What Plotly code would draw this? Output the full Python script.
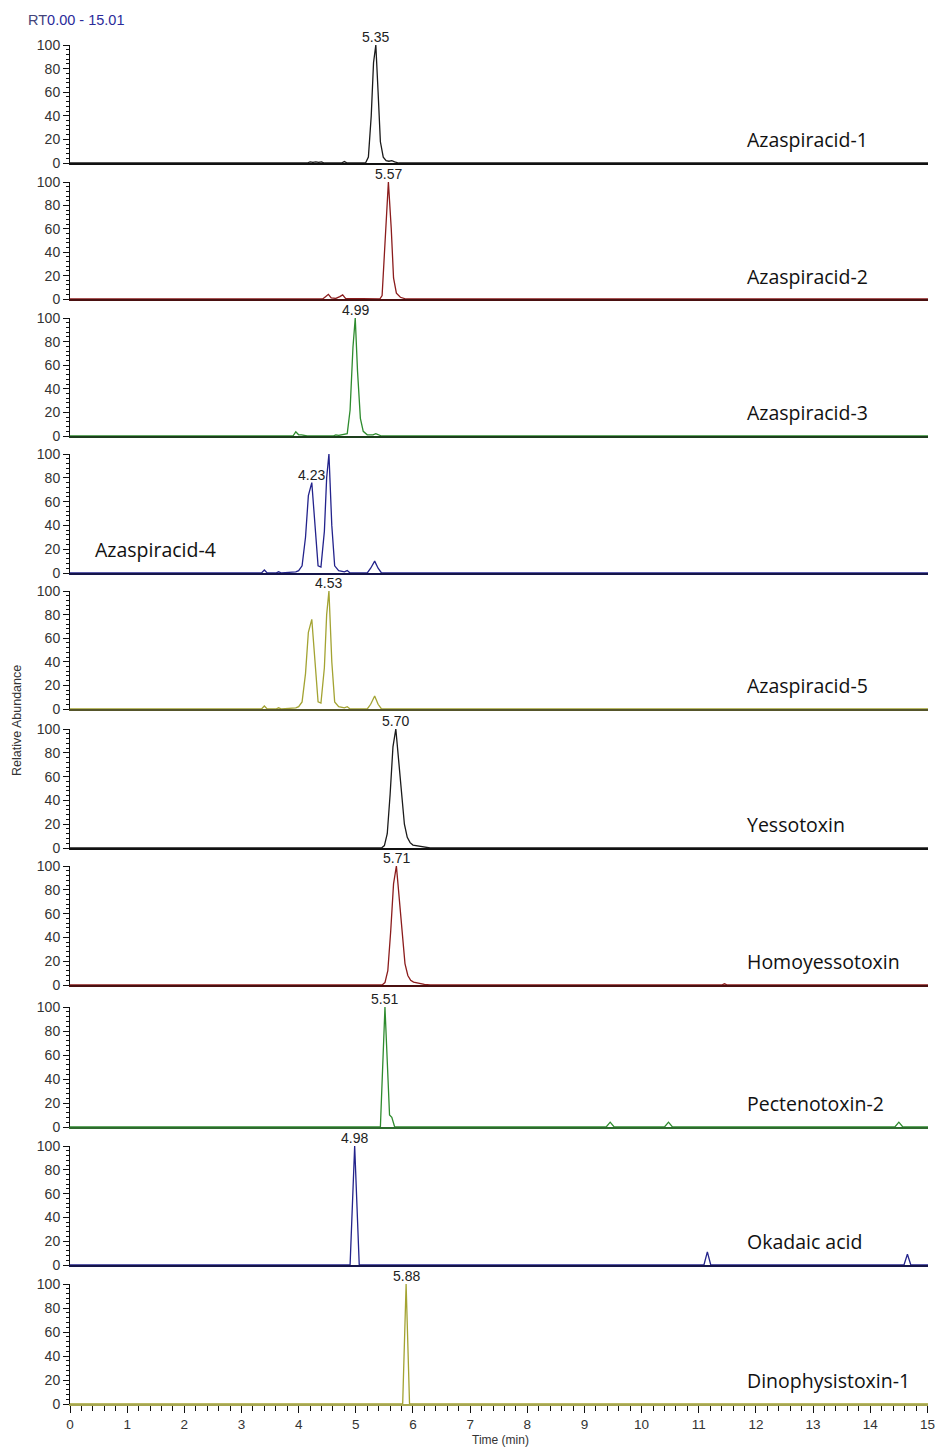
import plotly.graph_objects as go

# ---------------- data ----------------
compounds = ["Azaspiracid-1", "Azaspiracid-2", "Azaspiracid-3", "Azaspiracid-4",
             "Azaspiracid-5", "Yessotoxin", "Homoyessotoxin", "Pectenotoxin-2",
             "Okadaic acid", "Dinophysistoxin-1"]

t1 = [0, 4.15, 4.2, 4.25, 4.3, 4.35, 4.4, 4.45, 4.75, 4.8, 4.85, 5.17, 5.22, 5.27, 5.31, 5.35, 5.39, 5.43, 5.48, 5.53, 5.58, 5.63, 5.68, 5.75, 15.01]
y1 = [0, 0, 1, 0.5, 1, 0.5, 1, 0, 0, 1.2, 0, 0, 5, 40, 85, 100, 60, 18, 5, 2, 1.5, 2, 1, 0, 0]

t2 = [0, 4.42, 4.47, 4.52, 4.57, 4.65, 4.72, 4.77, 4.82, 5.42, 5.46, 5.51, 5.57, 5.62, 5.66, 5.71, 5.78, 5.88, 15.01]
y2 = [0, 0, 2, 4, 1, 0.5, 2, 3.5, 0.5, 0, 3, 45, 100, 60, 18, 5, 1.5, 0, 0]

t3 = [0, 3.9, 3.95, 4.0, 4.05, 4.1, 4.15, 4.6, 4.65, 4.7, 4.75, 4.85, 4.9, 4.95, 4.99, 5.03, 5.08, 5.13, 5.2, 5.3, 5.35, 5.4, 5.45, 15.01]
y3 = [0, 0, 3.5, 1, 1, 0.5, 0, 0, 1, 0.5, 1, 2, 22, 75, 100, 55, 15, 4, 1, 1, 2, 1, 0, 0]

t4 = [0, 3.35, 3.4, 3.45, 3.6, 3.65, 3.7, 3.9, 3.95, 4.0, 4.06, 4.12, 4.17, 4.23, 4.29, 4.34, 4.39, 4.45, 4.49, 4.53, 4.58, 4.63, 4.7, 4.8, 4.85, 4.9, 5.2, 5.26, 5.33, 5.39, 5.45, 15.01]
y4 = [0, 0, 2.5, 0, 0, 1, 0, 0.5, 1, 2, 6, 30, 65, 76, 35, 6, 5, 35, 80, 100, 40, 6, 2, 1, 2, 0, 0, 4, 10, 4, 0, 0]

t5 = [0, 3.35, 3.4, 3.45, 3.6, 3.65, 3.7, 3.9, 3.95, 4.0, 4.06, 4.12, 4.17, 4.23, 4.29, 4.34, 4.39, 4.45, 4.49, 4.53, 4.58, 4.63, 4.7, 4.8, 4.85, 4.9, 5.2, 5.26, 5.33, 5.39, 5.45, 15.01]
y5 = [0, 0, 2.5, 0, 0, 1, 0, 0.5, 1, 2, 6, 30, 65, 76, 35, 6, 5, 35, 80, 100, 40, 6, 2, 1, 2, 0, 0, 4, 11, 4, 0, 0]

t6 = [0, 5.45, 5.5, 5.55, 5.6, 5.65, 5.70, 5.75, 5.8, 5.85, 5.9, 5.95, 6.0, 6.1, 6.2, 6.3, 15.01]
y6 = [0, 0, 2, 12, 45, 85, 100, 72, 42, 20, 9, 4.5, 2.5, 1.5, 0.5, 0, 0]

t7 = [0, 5.46, 5.51, 5.56, 5.61, 5.66, 5.71, 5.76, 5.81, 5.86, 5.91, 5.96, 6.01, 6.1, 6.2, 6.3, 11.4, 11.45, 11.5, 15.01]
y7 = [0, 0, 2, 12, 45, 85, 100, 72, 40, 18, 8, 4, 2.5, 1.5, 0.5, 0, 0, 1, 0, 0]

t8 = [0, 5.43, 5.51, 5.59, 5.63, 5.68, 9.38, 9.45, 9.52, 10.4, 10.47, 10.54, 14.43, 14.5, 14.57, 15.01]
y8 = [0, 0, 100, 10, 8, 0, 0, 4, 0, 0, 4, 0, 0, 4, 0, 0]

t9 = [0, 4.9, 4.98, 5.06, 11.09, 11.15, 11.21, 14.59, 14.65, 14.71, 15.01]
y9 = [0, 0, 100, 0, 0, 11, 0, 0, 9, 0, 0]

t10 = [0, 5.82, 5.88, 5.94, 15.01]
y10 = [0, 0, 100, 0, 0]

times = [t1, t2, t3, t4, t5, t6, t7, t8, t9, t10]
intens = [y1, y2, y3, y4, y5, y6, y7, y8, y9, y10]

peak_rt = [5.35, 5.57, 4.99, 4.23, 4.53, 5.70, 5.71, 5.51, 4.98, 5.88]
peak_height = [100, 100, 100, 76, 100, 100, 100, 100, 100, 100]
peak_text = ["5.35", "5.57", "4.99", "4.23", "4.53", "5.70", "5.71", "5.51", "4.98", "5.88"]

y_ticks = [0, 20, 40, 60, 80, 100]
x_ticks = list(range(0, 16))

# ---------------- styling ----------------
colors = ["#1a1a1a", "#8b1c1c", "#2e8b2e", "#23238c", "#a3a332",
          "#1a1a1a", "#8b1c1c", "#2e8b2e", "#23238c", "#a3a332"]
axis_line_colors = ["#111111", "#4a1010", "#1d3d1d", "#15154a", "#55552a",
                    "#111111", "#4a1010", "#2e6b2e", "#15154a", "#a6a650"]
# pixel positions (top = 100, bottom = 0)
panel_px = [(45, 163), (182, 299), (318, 436), (454, 573), (591, 709),
            (729, 848), (866, 985), (1007, 1127), (1146, 1265), (1284, 1404)]
name_x = [11.8, 11.8, 11.8, 0.4, 11.8, 11.8, 11.8, 11.8, 11.8, 11.8]

W, H = 936, 1447
x_left, x_right = 70, 928
ARIAL = "Arial, Liberation Sans, sans-serif"

fig = go.Figure()
layout = dict(width=W, height=H, margin=dict(l=0, r=0, t=0, b=0, pad=0),
              autosize=False,
              paper_bgcolor="white", plot_bgcolor="white", showlegend=False,
              font=dict(family=ARIAL, color="#333333"))
annotations = []

for i in range(10):
    n = i + 1
    xa = "x" if n == 1 else f"x{n}"
    ya = "y" if n == 1 else f"y{n}"
    xkey = "xaxis" if n == 1 else f"xaxis{n}"
    ykey = "yaxis" if n == 1 else f"yaxis{n}"
    top, bot = panel_px[i]
    last = (i == 9)

    fig.add_trace(go.Scatter(x=times[i], y=intens[i], mode="lines",
                             line=dict(color=colors[i], width=1.3),
                             xaxis=xa, yaxis=ya, cliponaxis=False,
                             hoverinfo="skip"))

    xaxis = dict(domain=[x_left / W, x_right / W], anchor=ya, range=[0, 15.01],
                 automargin=False,
                 showgrid=False, zeroline=False, showline=True,
                 linecolor=axis_line_colors[i], linewidth=2 if not last else 1.5,
                 fixedrange=True)
    if last:
        xaxis.update(tickmode="array", tickvals=x_ticks, ticks="outside",
                     ticklen=7, tickwidth=1.2, tickcolor="#111111",
                     tickfont=dict(size=13.5, color="#333333"),
                     minor=dict(dtick=0.2, tick0=0, ticks="outside", ticklen=5,
                                tickwidth=1, tickcolor="#111111"),
                     showticklabels=True)
    else:
        xaxis.update(showticklabels=False, ticks="")
    layout[xkey] = xaxis

    layout[ykey] = dict(domain=[1 - bot / H, 1 - top / H], anchor=xa, range=[0, 100],
                        automargin=False,
                        showgrid=False, zeroline=False, showline=True,
                        linecolor="#111111", linewidth=1,
                        tickmode="array", tickvals=y_ticks, ticks="outside",
                        ticklen=6, tickwidth=1, tickcolor="#111111",
                        tickfont=dict(size=14, color="#333333"),
                        minor=dict(dtick=4, tick0=0, ticks="outside", ticklen=3,
                                   tickwidth=1, tickcolor="#111111"),
                        fixedrange=True)

    # peak label
    annotations.append(dict(x=peak_rt[i], y=peak_height[i], xref=xa, yref=ya,
                            text=peak_text[i], showarrow=False, yanchor="bottom",
                            xanchor="center", yshift=-2,
                            font=dict(size=14, color="#222222", family=ARIAL)))
    # compound name
    annotations.append(dict(x=name_x[i], y=19.5, xref=xa, yref=ya,
                            text=compounds[i], showarrow=False, xanchor="left",
                            yanchor="middle",
                            font=dict(size=19.5, color="#111111",
                                      family="Open Sans, Noto Sans, sans-serif")))

annotations.append(dict(x=26 / W, y=1 - 20 / H, xref="paper", yref="paper",
                        text="<span style='color:#44447a'>RT</span>0.00 - 15.01",
                        showarrow=False, xanchor="left", yanchor="middle",
                        font=dict(size=14.5, color="#2b2b9a", family=ARIAL)))
annotations.append(dict(x=17 / W, y=1 - 721 / H, xref="paper", yref="paper",
                        text="Relative Abundance", showarrow=False, textangle=-90,
                        xanchor="center", yanchor="middle",
                        font=dict(size=12.5, color="#333333", family=ARIAL)))
annotations.append(dict(x=500 / W, y=1 - 1440 / H, xref="paper", yref="paper",
                        text="Time (min)", showarrow=False,
                        xanchor="center", yanchor="middle",
                        font=dict(size=12, color="#333333", family=ARIAL)))

layout["annotations"] = annotations
fig.update_layout(**layout)
fig.write_html("out.html",
               post_script="document.body.style.margin='0';document.body.style.overflow='hidden';")
